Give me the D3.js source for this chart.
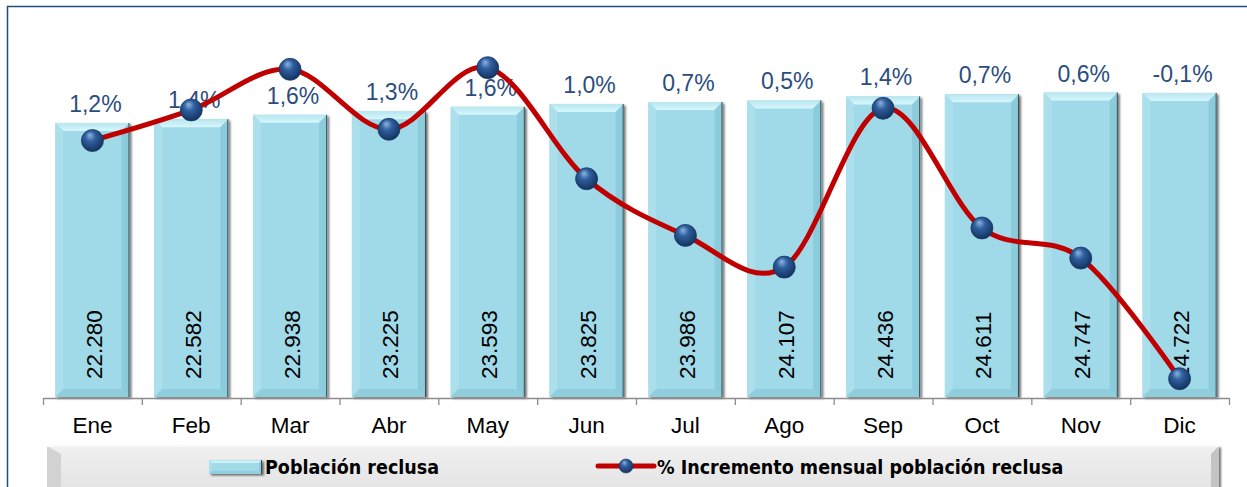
<!DOCTYPE html>
<html>
<head>
<meta charset="utf-8">
<script src="https://cdn.jsdelivr.net/npm/d3@7"></script>
<style>
  body { margin: 0; background: #fff; }
  svg { display: block; }
</style>
</head>
<body>
<div id="chart"></div>
<script>
var svgWidth = 1247;
var svgHeight = 487;

// data
var months = ["Ene", "Feb", "Mar", "Abr", "May", "Jun", "Jul", "Ago", "Sep", "Oct", "Nov", "Dic"];
var poblacion = [22280, 22582, 22938, 23225, 23593, 23825, 23986, 24107, 24436, 24611, 24747, 24722];
var incremento = [1.19, 1.356, 1.576, 1.251, 1.585, 0.983, 0.676, 0.504, 1.365, 0.716, 0.553, -0.101];
var legendLabels = ["Población reclusa", "% Incremento mensual población reclusa"];

var plot = { left: 43, right: 1229, top: 28, bottom: 397 };

var es = d3.formatLocale({ decimal: ",", thousands: ".", grouping: [3], currency: ["", "€"], minus: "-" });
var fmtInt = es.format(",d");
var fmtPct = es.format(".1f");

var svg = d3.select("#chart")
  .append("svg")
  .attr("width", svgWidth)
  .attr("height", svgHeight);

var defs = svg.append("defs");

// drop shadow for bars / legend
var shadow = defs.append("filter").attr("id", "shadow")
  .attr("x", "-10%").attr("y", "-10%").attr("width", "130%").attr("height", "130%");
shadow.append("feDropShadow")
  .attr("dx", 2).attr("dy", 1.5).attr("stdDeviation", 1.3)
  .attr("flood-color", "#000").attr("flood-opacity", 0.55);

// glossy marker
var ball = defs.append("radialGradient").attr("id", "ball")
  .attr("cx", "45%").attr("cy", "40%").attr("r", "60%")
  .attr("fx", "38%").attr("fy", "25%");
ball.append("stop").attr("offset", "0%").attr("stop-color", "#8fb3e0");
ball.append("stop").attr("offset", "40%").attr("stop-color", "#2f5f9e");
ball.append("stop").attr("offset", "100%").attr("stop-color", "#14335f");

var topGrad = defs.append("linearGradient").attr("id", "topGrad")
  .attr("x1", 0).attr("y1", 0).attr("x2", 0).attr("y2", 1);
topGrad.append("stop").attr("offset", "0%").attr("stop-color", "#b8e6f0");
topGrad.append("stop").attr("offset", "100%").attr("stop-color", "#d6f7fc");

var legendGrad = defs.append("linearGradient").attr("id", "legendGrad")
  .attr("x1", 0).attr("y1", 0).attr("x2", 0).attr("y2", 1);
legendGrad.append("stop").attr("offset", "0%").attr("stop-color", "#f0f0f0");
legendGrad.append("stop").attr("offset", "100%").attr("stop-color", "#e2e2e2");

// outer frame
svg.append("rect")
  .attr("x", 7.5).attr("y", 6.5)
  .attr("width", 1260).attr("height", 500)
  .attr("fill", "none")
  .attr("stroke", "#1f4e79")
  .attr("stroke-width", 1.5);

// scales
var x = d3.scaleBand()
  .domain(months)
  .range([plot.left, plot.right])
  .paddingInner(0.25)
  .paddingOuter(0.125);

var y1 = d3.scaleLinear().domain([0, 30000]).range([plot.bottom, plot.top]);
var y2 = d3.scaleLinear().domain([-0.2, 1.8]).range([plot.bottom, plot.top]);

var chartGroup = svg.append("g");

// beveled bar
function bevelBar(g, x0, y0, w, h, b) {
  var x1 = x0 + w, yb = y0 + h;
  g.append("rect")
    .attr("x", x0).attr("y", y0).attr("width", w).attr("height", h)
    .attr("fill", "#a0d9e8")
    .attr("filter", "url(#shadow)");
  var faces = [
    { pts: [[x0, y0], [x1, y0], [x1 - b, y0 + b], [x0 + b, y0 + b]], fill: "url(#topGrad)" },
    { pts: [[x0, y0], [x0 + b, y0 + b], [x0 + b, yb - b], [x0, yb]], fill: "#acdfec" },
    { pts: [[x1, y0], [x1, yb], [x1 - b, yb - b], [x1 - b, y0 + b]], fill: "#8ccbdc" },
    { pts: [[x0, yb], [x0 + b, yb - b], [x1 - b, yb - b], [x1, yb]], fill: "#90cddd" }
  ];
  faces.forEach(function(f) {
    g.append("polygon")
      .attr("points", f.pts.map(function(p) { return p.join(","); }).join(" "))
      .attr("fill", f.fill);
  });
  g.append("line")
    .attr("x1", x1 - 0.5).attr("x2", x1 - 0.5)
    .attr("y1", y0).attr("y2", yb)
    .attr("stroke", "#3a4a50").attr("stroke-width", 1);
}

var bars = chartGroup.selectAll(".bar")
  .data(poblacion)
  .enter()
  .append("g")
  .attr("class", "bar");

bars.each(function(d, i) {
  var top = y1(d);
  bevelBar(d3.select(this), x(months[i]), top, x.bandwidth(), y1(0) - top, 8);
});

// axis line with ticks between categories
var tickScale = d3.scaleLinear().domain([0, 12]).range([plot.left, plot.right]);
var tickAxis = chartGroup.append("g")
  .attr("transform", "translate(0," + (plot.bottom + 1) + ")")
  .call(d3.axisBottom(tickScale).ticks(12).tickSizeInner(7).tickSizeOuter(0).tickFormat(""));
tickAxis.selectAll("path, line").attr("stroke", "#8c8c8c").attr("stroke-width", 1.3);

var xAxis = chartGroup.append("g")
  .attr("transform", "translate(0," + (plot.bottom + 1) + ")")
  .call(d3.axisBottom(x).tickSize(0).tickPadding(19));
xAxis.select(".domain").remove();
xAxis.selectAll("text")
  .attr("font-family", "Liberation Sans, Arial, sans-serif")
  .attr("font-size", "22.5px")
  .attr("fill", "#000");

// value labels inside base, rotated
chartGroup.selectAll(".barLabel")
  .data(poblacion)
  .enter()
  .append("text")
  .attr("class", "barLabel")
  .attr("transform", function(d, i) {
    return "translate(" + (x(months[i]) + x.bandwidth() / 2 + 9.5) + "," + (plot.bottom - 18) + ") rotate(-90)";
  })
  .attr("font-family", "Liberation Sans, Arial, sans-serif")
  .attr("font-size", "22.5px")
  .attr("fill", "#000")
  .text(function(d) { return fmtInt(d); });

// percent labels above bars
chartGroup.selectAll(".pctLabel")
  .data(incremento)
  .enter()
  .append("text")
  .attr("class", "pctLabel")
  .attr("x", function(d, i) { return x(months[i]) + x.bandwidth() / 2 + 3; })
  .attr("y", function(d, i) { return y1(poblacion[i]) - 11; })
  .attr("text-anchor", "middle")
  .attr("font-family", "Liberation Sans, Arial, sans-serif")
  .attr("font-size", "23px")
  .attr("fill", "#2b4d7e")
  .text(function(d) { return fmtPct(d) + "%"; });

// smoothed line
var line = d3.line()
  .x(function(d, i) { return x(months[i]) + x.bandwidth() / 2; })
  .y(function(d) { return y2(d); })
  .curve(d3.curveCardinal.tension(0));

chartGroup.append("path")
  .datum(incremento)
  .attr("d", line)
  .attr("fill", "none")
  .attr("stroke", "#c00000")
  .attr("stroke-width", 5)
  .attr("stroke-linejoin", "round");

chartGroup.selectAll(".marker")
  .data(incremento)
  .enter()
  .append("circle")
  .attr("class", "marker")
  .attr("cx", function(d, i) { return x(months[i]) + x.bandwidth() / 2; })
  .attr("cy", function(d) { return y2(d); })
  .attr("r", 11)
  .attr("fill", "url(#ball)")
  .attr("stroke", "#1b3a66")
  .attr("stroke-width", 0.8);

// legend
var legend = svg.append("g");
var lx0 = 47, ly0 = 446, lw = 1172, lh = 50, lb = 8;
legend.append("rect")
  .attr("x", lx0).attr("y", ly0).attr("width", lw).attr("height", lh)
  .attr("fill", "url(#legendGrad)")
  .attr("filter", "url(#shadow)");
legend.append("polygon")
  .attr("points", [[lx0, ly0], [lx0 + lb + 6, ly0 + lb], [lx0 + lb + 6, ly0 + lh], [lx0, ly0 + lh]].map(function(p) { return p.join(","); }).join(" "))
  .attr("fill", "#d2d2d2");
legend.append("polygon")
  .attr("points", [[lx0 + lw, ly0], [lx0 + lw - lb, ly0 + lb], [lx0 + lw - lb, ly0 + lh], [lx0 + lw, ly0 + lh]].map(function(p) { return p.join(","); }).join(" "))
  .attr("fill", "#c4c4c4");
legend.append("line")
  .attr("x1", lx0).attr("x2", lx0 + lw).attr("y1", ly0 + 0.5).attr("y2", ly0 + 0.5)
  .attr("stroke", "#fafafa").attr("stroke-width", 1);

var sw = legend.append("g");
bevelBar(sw, 209, 460, 53, 14, 3);

legend.append("text")
  .attr("x", 265).attr("y", 474)
  .attr("font-family", "Liberation Sans Narrow, DejaVu Sans Condensed, Arial Narrow, sans-serif")
  .attr("font-weight", "bold")
  .attr("font-size", "19.5px")
  .attr("fill", "#000")
  .text(legendLabels[0]);

legend.append("line")
  .attr("x1", 598).attr("x2", 654).attr("y1", 466).attr("y2", 466)
  .attr("stroke", "#c00000").attr("stroke-width", 5).attr("stroke-linecap", "round");
legend.append("circle")
  .attr("cx", 626).attr("cy", 466).attr("r", 7)
  .attr("fill", "url(#ball)")
  .attr("stroke", "#1b3a66").attr("stroke-width", 0.6);

legend.append("text")
  .attr("x", 657).attr("y", 474)
  .attr("font-family", "Liberation Sans Narrow, DejaVu Sans Condensed, Arial Narrow, sans-serif")
  .attr("font-weight", "bold")
  .attr("font-size", "19.5px")
  .attr("fill", "#000")
  .text(legendLabels[1]);
</script>
</body>
</html>
